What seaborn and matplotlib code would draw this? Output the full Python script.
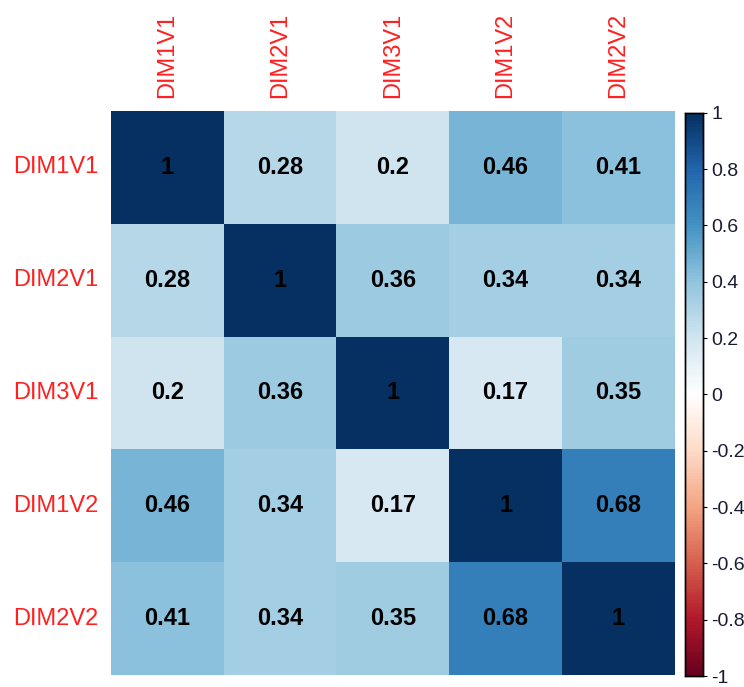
import matplotlib
matplotlib.use("Agg")
import matplotlib.pyplot as plt
from matplotlib.colors import LinearSegmentedColormap
import numpy as np
import pandas as pd
import seaborn as sns

# Variable names and correlation values
labels = ['DIM1V1', 'DIM2V1', 'DIM3V1', 'DIM1V2', 'DIM2V2']
row1 = [1, 0.28, 0.2, 0.46, 0.41]
row2 = [0.28, 1, 0.36, 0.34, 0.34]
row3 = [0.2, 0.36, 1, 0.17, 0.35]
row4 = [0.46, 0.34, 0.17, 1, 0.68]
row5 = [0.41, 0.34, 0.35, 0.68, 1]
cbar_ticks = ['-1', '-0.8', '-0.6', '-0.4', '-0.2', '0', '0.2', '0.4', '0.6', '0.8', '1']

corr = pd.DataFrame([row1, row2, row3, row4, row5], index=labels, columns=labels)

plt.rcParams['font.family'] = ['Liberation Sans', 'DejaVu Sans']

# corrplot-like RdBu palette
cols = ["#67001F", "#B2182B", "#D6604D", "#F4A582", "#FDDBC7", "#FFFFFF",
        "#D1E5F0", "#92C5DE", "#4393C3", "#2166AC", "#053061"]
cmap = LinearSegmentedColormap.from_list("rdbu_corr", cols, N=200)

fig = plt.figure(figsize=(7.44, 6.87), dpi=100)
ax = fig.add_axes([0.149, 0.0175, 0.758, 0.821])
cax = fig.add_axes([0.921, 0.016, 0.024, 0.82])

sns.heatmap(corr, ax=ax, cbar_ax=cax, cmap=cmap, vmin=-1, vmax=1,
            annot=True, fmt='g', annot_kws={'fontsize': 17, 'fontweight': 'bold', 'color': 'black'},
            linewidths=0, square=False)

ax.xaxis.tick_top()
ax.set_xticklabels(labels, rotation=90, color='#ff2020', fontsize=17)
ax.set_yticklabels(labels, rotation=0, color='#ff2020', fontsize=17)
ax.tick_params(length=0, pad=9)
ax.set_xlabel('')
ax.set_ylabel('')

cax.set_yticks(np.round(np.arange(-1, 1.01, 0.2), 1))
cax.set_yticklabels(cbar_ticks)
cax.tick_params(labelsize=14, length=3, pad=3, colors='black', labelcolor='#1a1a33')
for s in cax.spines.values():
    s.set_visible(True)
    s.set_color('black')
    s.set_linewidth(1)

plt.savefig('out.png', dpi=100)
